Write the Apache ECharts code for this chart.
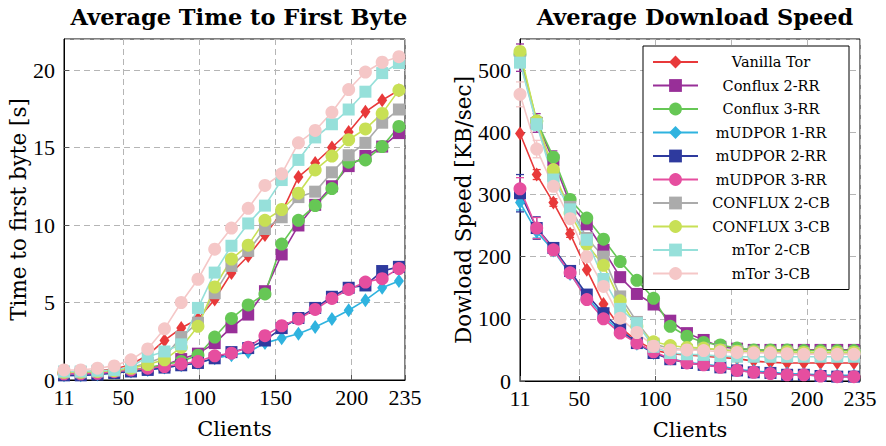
<!DOCTYPE html>
<html><head><meta charset="utf-8">
<script src="https://cdn.jsdelivr.net/npm/echarts@6/dist/echarts.min.js"></script>
<style>html,body{margin:0;padding:0;background:#fff}#c{width:886px;height:446px}</style>
</head><body><div id="c"></div>
<script>
const clients = [11,22,33,44,55,66,77,88,99,110,121,132,143,154,165,176,187,198,209,220,231];
const xTickLabels = [11,50,100,150,200,235];
const seriesNames = ['Vanilla Tor','Conflux 2-RR','Conflux 3-RR','mUDPOR 1-RR','mUDPOR 2-RR','mUDPOR 3-RR','CONFLUX 2-CB','CONFLUX 3-CB','mTor 2-CB','mTor 3-CB'];

// Average Time to First Byte [s]
const ttfbVanilla    = [0.5,0.5,0.6,0.7,1.0,1.6,2.55,3.35,3.94,5.2,6.9,8.0,9.35,10.8,13.1,14.0,15.0,16.0,17.3,18.05,18.7];
const ttfbConflux2RR = [0.4,0.4,0.45,0.5,0.6,0.75,0.95,1.35,1.7,2.38,3.4,4.22,5.73,8.1,9.97,11.3,12.5,13.8,14.45,15.06,15.93];
const ttfbConflux3RR = [0.45,0.45,0.5,0.55,0.65,0.8,1.0,1.2,1.6,2.77,3.97,4.84,5.55,8.77,10.3,11.25,12.35,14.05,14.2,15.06,16.36];
const ttfbMudpor1    = [0.3,0.3,0.35,0.45,0.55,0.65,0.8,0.95,1.1,1.4,1.6,1.8,2.38,2.7,2.99,3.42,3.94,4.5,5.15,5.95,6.39];
const ttfbMudpor2    = [0.3,0.3,0.35,0.45,0.55,0.65,0.8,0.95,1.1,1.4,1.8,2.06,2.55,3.35,4.0,4.65,5.37,5.95,6.1,7.03,7.3];
const ttfbMudpor3    = [0.4,0.4,0.43,0.54,0.65,0.76,0.87,1.04,1.19,1.56,1.73,2.12,2.86,3.5,3.94,4.55,5.26,5.84,6.32,6.54,7.19];
const ttfbConflux2CB = [0.5,0.5,0.55,0.6,0.8,1.1,1.5,2.77,3.7,5.6,7.36,8.33,9.74,10.5,11.8,12.15,13.4,14.5,15.3,16.6,17.45];
const ttfbConflux3CB = [0.5,0.5,0.55,0.6,0.75,1.0,1.3,2.1,3.46,6.0,7.8,8.7,10.3,11.0,12.05,13.55,14.45,15.5,16.2,17.2,18.7];
const ttfbMtor2CB    = [0.55,0.55,0.6,0.65,0.85,1.5,1.84,2.3,4.65,6.93,8.66,10.1,11.25,12.9,14.2,15.65,16.5,17.45,18.6,19.8,20.45];
const ttfbMtor3CB    = [0.65,0.65,0.76,0.91,1.3,2.0,3.3,5.0,6.5,8.44,9.8,11.08,12.55,13.3,15.3,16.1,17.27,18.74,19.87,20.5,20.86];

// Average Download Speed [KB/sec]
const dlVanilla    = [398,332,287,237,179,124,86,65,50,44,42,40,38,36,32,30,29,29,29,29,29];
const dlConflux2RR = [520,415,355,285,252,211,167,140,123,97,77,66,55,52,50,50,50,50,50,50,50];
const dlConflux3RR = [525,418,360,292,262,228,192,162,133,88,72,62,58,53,50,50,50,49,49,49,49];
const dlMudpor1    = [287,240,210,172,135,104,80,60,45,36,30,27,24,19,16,14,12,11,10,9,9];
const dlMudpor2    = [302,246,214,177,139,109,83,61,45,35,29,26,22,17,14,13,10,10,8,7,7];
const dlMudpor3    = [309,246,211,174,131,100,77,61,47,36,29,26,22,17,14,12,10,10,8,7,7];
const dlConflux2CB = [515,415,330,280,230,200,136,95,60,52,50,52,50,48,47,46,46,45,45,45,45];
const dlConflux3CB = [530,418,340,270,220,186,129,88,63,57,54,53,50,48,47,47,47,46,46,46,46];
const dlMtor2CB    = [512,413,324,276,227,164,116,93,55,45,43,42,40,39,39,39,39,39,39,39,39];
const dlMtor3CB    = [461,373,313,261,200,152,101,78,56,50,50,49,47,46,45,45,44,43,43,43,43];

// Download speed error bar half-widths (first few client counts only)
const dlErrVanilla    = [0,8,6,6];
const dlErrConflux2RR = [22,15,15,8];
const dlErrMudpor1    = [12,10,6];
const dlErrMudpor2    = [30,18,8];
const dlErrMudpor3    = [18,17,8];
const dlErrMtor2CB    = [8,10,6];
const dlErrMtor3CB    = [20,14,8];

const ttfbSets = [ttfbVanilla,ttfbConflux2RR,ttfbConflux3RR,ttfbMudpor1,ttfbMudpor2,ttfbMudpor3,ttfbConflux2CB,ttfbConflux3CB,ttfbMtor2CB,ttfbMtor3CB];
const dlSets = [dlVanilla,dlConflux2RR,dlConflux3RR,dlMudpor1,dlMudpor2,dlMudpor3,dlConflux2CB,dlConflux3CB,dlMtor2CB,dlMtor3CB];
const dlErrSets = [dlErrVanilla,dlErrConflux2RR,null,dlErrMudpor1,dlErrMudpor2,dlErrMudpor3,null,null,dlErrMtor2CB,dlErrMtor3CB];

const colors = ['#e8393a','#982f98','#66c755','#2fb3df','#2e3a9e','#e64e9f','#ababab','#c8e055','#96e0da','#f5c7c7'];
const symbols = ['diamond','rect','circle','diamond','rect','circle','rect','circle','rect','circle'];
const symSizes = [[10,14],12,13,[10,14],12,13,12,13,12,13];

const FONT = 'DejaVu Serif';
const NUMFONT = 'Liberation Serif';
const chart = echarts.init(document.getElementById('c'), null, {renderer:'svg'});

function xAxisCfg(gi){
  return {
    gridIndex: gi, type:'value', min:11, max:235,
    name:'Clients', nameLocation:'middle', nameGap:38,
    nameTextStyle:{fontFamily:FONT, fontSize:21, color:'#000'},
    axisLine:{show:true, lineStyle:{color:'#000', width:1}},
    axisTick:{show:true, inside:true, length:5, customValues:xTickLabels, lineStyle:{color:'#555'}},
    axisLabel:{fontFamily:NUMFONT, fontSize:22, color:'#000', margin:6, customValues:xTickLabels},
    splitLine:{show:true, lineStyle:{color:'#b5b5b5', type:[6,4], width:1}}
  };
}
function yAxisCfg(gi, name, max, interval, gap){
  return {
    gridIndex: gi, type:'value', min:0, max:max, interval:interval,
    name:name, nameLocation:'middle', nameGap:gap,
    nameTextStyle:{fontFamily:FONT, fontSize:21.5, color:'#000'},
    axisLine:{show:true, lineStyle:{color:'#000', width:1}},
    axisTick:{show:true, inside:true, length:5, lineStyle:{color:'#555'}},
    axisLabel:{fontFamily:NUMFONT, fontSize:22, color:'#000', margin:9, showMaxLabel:false},
    splitLine:{show:true, lineStyle:{color:'#b5b5b5', type:[6,4], width:1}}
  };
}

function errSeries(vals, errs, color){
  const d = [];
  errs.forEach((e,i)=>{ if (e>0) d.push([clients[i], vals[i]-e, vals[i]+e]); });
  return {
    type:'custom', xAxisIndex:1, yAxisIndex:1, silent:true, animation:false,
    data:d,
    renderItem:(params, api)=>{
      const x = api.value(0);
      const lo = api.coord([x, api.value(1)]);
      const hi = api.coord([x, api.value(2)]);
      const st = {stroke:color, lineWidth:1.3, fill:null};
      return {type:'group', children:[
        {type:'line', shape:{x1:lo[0], y1:lo[1], x2:hi[0], y2:hi[1]}, style:st},
        {type:'line', shape:{x1:lo[0]-4, y1:lo[1], x2:lo[0]+4, y2:lo[1]}, style:st},
        {type:'line', shape:{x1:hi[0]-4, y1:hi[1], x2:hi[0]+4, y2:hi[1]}, style:st}
      ]};
    }
  };
}

const series = [];
[ttfbSets, dlSets].forEach((sets, gi) => {
  sets.forEach((vals, k) => {
    if (gi === 1 && dlErrSets[k]) series.push(errSeries(vals, dlErrSets[k], colors[k]));
    series.push({
      name: seriesNames[k], type:'line', xAxisIndex:gi, yAxisIndex:gi,
      data: clients.map((c,i)=>[c, vals[i]]),
      symbol: symbols[k], symbolSize: symSizes[k], showAllSymbol:true,
      lineStyle:{color:colors[k], width:1.6},
      itemStyle:{color:colors[k], borderWidth:0},
      emphasis:{disabled:true}, animation:false, clip:false
    });
  });
});

chart.setOption({
  animation:false,
  color: colors,
  title:[
    {text:'Average Time to First Byte', left:234, top:0, textAlign:'center', textStyle:{fontFamily:FONT, fontSize:22.5, fontWeight:'bold', color:'#000'}},
    {text:'Average Download Speed', left:690, top:0, textAlign:'center', textStyle:{fontFamily:FONT, fontSize:22.5, fontWeight:'bold', color:'#000'}}
  ],
  grid:[
    {left:64, top:39, width:341, height:341, show:true, borderColor:'#000', borderWidth:1, backgroundColor:'transparent'},
    {left:520, top:39, width:340, height:342, show:true, borderColor:'#000', borderWidth:1, backgroundColor:'transparent'}
  ],
  xAxis:[xAxisCfg(0), xAxisCfg(1)],
  yAxis:[yAxisCfg(0,'Time to first byte [s]',22,5,34), yAxisCfg(1,'Dowload Speed [KB/sec]',550,100,45.5)],
  legend:{
    data: seriesNames, orient:'vertical', left:643, top:46,
    padding:[8,10,8,9], itemGap:7.5, itemWidth:45, itemHeight:16,
    borderColor:'#000', borderWidth:1, backgroundColor:'#fff',
    selectedMode:false,
    formatter: n => '{c|' + n + '}',
    textStyle:{fontFamily:FONT, fontSize:14.5, color:'#000', rich:{c:{width:136, height:16, lineHeight:16, align:'center', fontFamily:FONT, fontSize:14.5, color:'#000'}}}
  },
  series: series
});
</script></body></html>
